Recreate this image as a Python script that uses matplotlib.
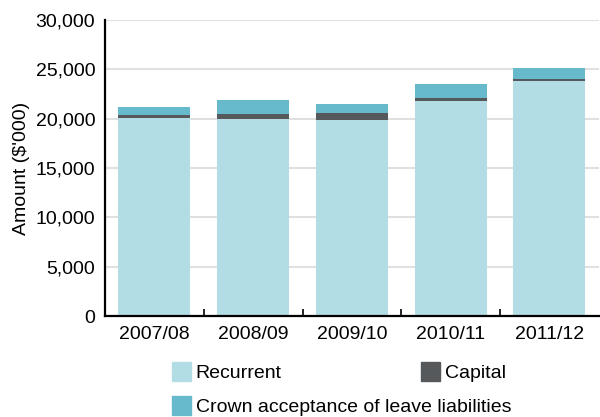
import matplotlib.pyplot as plt
import numpy as np
from matplotlib.patches import Patch
from matplotlib.ticker import FuncFormatter, MultipleLocator

plt.rcParams["font.family"] = ["Liberation Sans", "DejaVu Sans"]

# %% data ($'000)
years = ["2007/08", "2008/09", "2009/10", "2010/11", "2011/12"]
recurrent = [20100, 20000, 19900, 21800, 23850]
capital = [300, 500, 700, 300, 220]
crown = [800, 1400, 900, 1400, 1080]

colRecurrent = "#b3dde4"
colCapital = "#55595c"
colCrown = "#67bacb"
fs = 14

# %% plot
fig = plt.figure(figsize=(6, 4.17), dpi=100)
ax = fig.add_axes([0.175, 0.242, 0.823, 0.71])

x = np.arange(len(years))
rec = np.array(recurrent)
cap = np.array(capital)
crw = np.array(crown)
w = 0.73
ax.bar(x, rec, w, color=colRecurrent, zorder=2)
ax.bar(x, cap, w, bottom=rec, color=colCapital, zorder=2)
ax.bar(x, crw, w, bottom=rec + cap, color=colCrown, zorder=2)

ax.set_xlim(-0.5, 4.5)
ax.set_ylim(0, 30000)
ax.yaxis.set_major_locator(MultipleLocator(5000))
ax.yaxis.set_major_formatter(FuncFormatter(lambda v, p: "{:,.0f}".format(v)))
ax.grid(axis="y", color="#e0e0e0", linewidth=1.5, zorder=0)
ax.set_axisbelow(True)

ax.set_xticks(x)
ax.set_xticklabels(years)
ax.set_xticks(np.arange(0.5, 4.0, 1.0), minor=True)
ax.tick_params(axis="x", which="major", length=0, pad=7, labelsize=fs)
ax.tick_params(axis="x", which="minor", direction="in", length=5, width=1.2)
ax.tick_params(axis="y", length=0, pad=7, labelsize=fs)

for s in ["top", "right"]:
    ax.spines[s].set_visible(False)
for s in ["left", "bottom"]:
    ax.spines[s].set_linewidth(1.6)
ax.set_ylabel("Amount ($'000)", fontsize=fs, labelpad=4)

# legend laid out in two rows under the axes
legOpts = dict(frameon=False, fontsize=fs, handlelength=1.0, handleheight=1.1,
               handletextpad=0.22, borderpad=0, borderaxespad=0, loc="upper left")
fig.legend(handles=[Patch(color=colRecurrent, label="Recurrent")],
           bbox_to_anchor=(172 / 600, 1 - 362 / 417), **legOpts)
fig.legend(handles=[Patch(color=colCapital, label="Capital")],
           bbox_to_anchor=(421 / 600, 1 - 362 / 417), **legOpts)
fig.legend(handles=[Patch(color=colCrown, label="Crown acceptance of leave liabilities")],
           bbox_to_anchor=(172 / 600, 1 - 396 / 417), **legOpts)

plt.savefig("out.png", dpi=100)
